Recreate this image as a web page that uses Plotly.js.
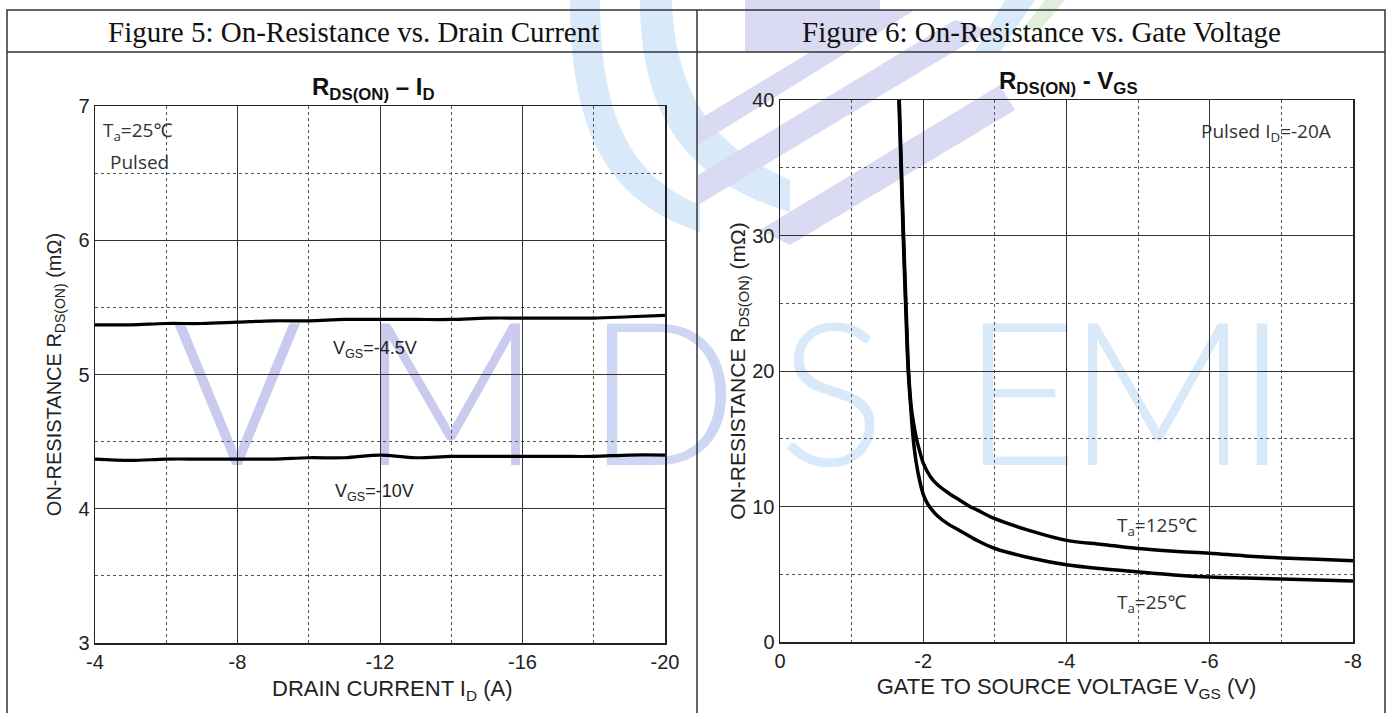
<!DOCTYPE html>
<html>
<head>
<meta charset="utf-8">
<script src="https://cdn.plot.ly/plotly-3.0.1.min.js"></script>
<style>html,body{margin:0;padding:0;background:#fff;}#chart{width:1391px;height:713px;}</style>
</head>
<body>
<div id="chart"></div>
<script>
// ---------- data ----------
const drainCurrent = [-4,-5,-6,-7,-8,-9,-10,-11,-12,-13,-14,-15,-16,-17,-18,-19,-20];
const rdsVgs45 = [5.37,5.37,5.38,5.38,5.39,5.40,5.40,5.41,5.41,5.41,5.41,5.42,5.42,5.42,5.42,5.43,5.44];
const rdsVgs10 = [4.37,4.36,4.37,4.37,4.37,4.37,4.38,4.38,4.40,4.38,4.39,4.39,4.39,4.39,4.39,4.40,4.40];

const vgs25 = [-1.66,-1.69,-1.72,-1.76,-1.79,-1.83,-1.86,-1.90,-1.95,-2.0,-2.05,-2.1,-2.2,-2.35,-2.5,-2.75,-3,-3.5,-4,-4.5,-5,-5.5,-6,-6.5,-7,-7.5,-8];
const rds25 = [40,35,30,24,20,17,15,13.3,11.9,10.9,10.3,9.9,9.3,8.7,8.25,7.5,6.9,6.2,5.7,5.4,5.17,4.95,4.8,4.72,4.65,4.57,4.5];
const vgs125 = [-1.665,-1.695,-1.725,-1.765,-1.795,-1.835,-1.87,-1.91,-1.96,-2.0,-2.1,-2.2,-2.35,-2.5,-2.65,-2.75,-3,-3.5,-4,-4.5,-5,-5.5,-6,-6.5,-7,-7.5,-8];
const rds125 = [40,35,30,24,20,17.2,16.0,14.9,13.9,13.2,12.2,11.6,11.0,10.5,10.0,9.75,9.1,8.2,7.5,7.2,6.9,6.7,6.55,6.35,6.2,6.1,6.0];

const xTicks5 = [-4,-8,-12,-16,-20];
const xTickText5 = ['-4','-8','-12','-16','-20'];
const yTicks5 = [3,4,5,6,7];
const xTicks6 = [0,-2,-4,-6,-8];
const xTickText6 = ['0','-2','-4','-6','-8'];
const yTicks6 = [0,10,20,30,40];

// ---------- layout helpers ----------
const W = 1391, H = 713;
const px = x => x / W;
const py = y => 1 - y / H;

const tickFont = {family: 'Liberation Sans, Arial, sans-serif', size: 20, color: '#222'};
const noteFont = {family: 'Open Sans, Noto Sans, sans-serif', size: 19, color: '#333'};

function axisCommon(extra) {
  return Object.assign({
    showline: true, mirror: true, linecolor: '#222', linewidth: 1.5,
    showgrid: true, gridcolor: '#333', gridwidth: 1,
    zeroline: false, ticks: '', tickfont: tickFont, automargin: false,
    fixedrange: true
  }, extra);
}
function minorGrid(dtick, tick0) {
  return {showgrid: true, gridcolor: '#555', griddash: 'dot', gridwidth: 1, dtick: dtick, tick0: tick0};
}

const traces = [
  {x: drainCurrent, y: rdsVgs45, xaxis: 'x', yaxis: 'y', mode: 'lines', name: 'VGS=-4.5V',
   line: {color: '#000', width: 3.2, shape: 'spline'}, hoverinfo: 'skip'},
  {x: drainCurrent, y: rdsVgs10, xaxis: 'x', yaxis: 'y', mode: 'lines', name: 'VGS=-10V',
   line: {color: '#000', width: 3.2, shape: 'spline'}, hoverinfo: 'skip'},
  {x: vgs25, y: rds25, xaxis: 'x2', yaxis: 'y2', mode: 'lines', name: 'Ta=25°C',
   line: {color: '#000', width: 3.5, shape: 'spline', smoothing: 1}, hoverinfo: 'skip'},
  {x: vgs125, y: rds125, xaxis: 'x2', yaxis: 'y2', mode: 'lines', name: 'Ta=125°C',
   line: {color: '#000', width: 3.5, shape: 'spline', smoothing: 1}, hoverinfo: 'skip'}
];

const lav = '#dadbf3';
const blu = '#d8e9fa';
const lavText = '#c9caee';
function wm(letter, cx, color) {
  return {type: 'rect', xref: 'paper', yref: 'paper', layer: 'below',
    x0: px(cx - 100), x1: px(cx + 100), y0: py(470), y1: py(300),
    line: {width: 0}, fillcolor: 'rgba(0,0,0,0)',
    label: {text: letter, textposition: 'middle center',
      font: {family: 'Lato, Inter, sans-serif', size: 200, color: color, weight: 300}}};
}
function band(path, color) {
  return {type: 'path', xref: 'paper', yref: 'paper', layer: 'below', line: {width: 0},
    fillcolor: color, path: path};
}
const P = (x, y) => `${px(x)} ${py(y)}`;

const shapes = [
  // logo-like decorative bands (background)
  band(`M ${P(570,0)} L ${P(600,0)} C ${P(600,130)} ${P(640,180)} ${P(700,205)} L ${P(700,232)} C ${P(620,205)} ${P(570,150)} ${P(570,0)} Z`, blu),
  band(`M ${P(640,0)} L ${P(672,0)} C ${P(675,100)} ${P(720,150)} ${P(790,180)} L ${P(790,212)} C ${P(700,185)} ${P(640,130)} ${P(640,0)} Z`, blu),
  band(`M ${P(745,0)} L ${P(880,0)} L ${P(880,15)} L ${P(825,52)} L ${P(745,52)} Z`, lav),
  band(`M ${P(698,120)} L ${P(880,10)} L ${P(915,10)} L ${P(698,145)} Z`, lav),
  band(`M ${P(698,175)} L ${P(955,20)} L ${P(990,30)} L ${P(698,205)} Z`, lav),
  band(`M ${P(760,230)} L ${P(1000,85)} L ${P(1015,110)} L ${P(790,245)} Z`, lav),
  band(`M ${P(1005,0)} L ${P(1035,0)} L ${P(1000,52)} L ${P(975,52)} Z`, blu),
  band(`M ${P(1045,0)} L ${P(1065,0)} L ${P(1040,30)} L ${P(1022,30)} Z`, '#e0efdc'),
  // watermark letters
  wm('V', 237, lavText), wm('M', 450, lavText), wm('D', 662, '#cdd6f3'),
  wm('S', 832, blu), wm('E', 1020, blu), wm('M', 1158, blu), wm('I', 1262, blu),
  // table borders
  {type: 'rect', xref: 'paper', yref: 'paper', x0: px(7), x1: px(1385), y0: py(720), y1: py(10),
   line: {color: '#333', width: 1.5}, fillcolor: 'rgba(0,0,0,0)'},
  {type: 'line', xref: 'paper', yref: 'paper', x0: px(7), x1: px(1385), y0: py(52), y1: py(52),
   line: {color: '#333', width: 1.5}},
  {type: 'line', xref: 'paper', yref: 'paper', x0: px(697), x1: px(697), y0: py(10), y1: py(720),
   line: {color: '#333', width: 1.5}}
];

function ann(text, x, y, font, xanchor, yanchor) {
  return {text: text, xref: 'paper', yref: 'paper', x: px(x), y: py(y), showarrow: false,
    xanchor: xanchor || 'left', yanchor: yanchor || 'middle', font: font};
}
const serif = {family: 'Liberation Serif, Times New Roman, serif', size: 29, color: '#111'};
const boldTitle = {family: 'Liberation Sans, Arial, sans-serif', size: 24, color: '#111'};
const labelFont = {family: 'Liberation Sans, Arial, sans-serif', size: 18, color: '#222'};

const annotations = [
  ann('Figure 5: On-Resistance vs. Drain Current', 353, 32, serif, 'center'),
  ann('Figure 6: On-Resistance vs. Gate Voltage', 1041, 32, serif, 'center'),
  ann('<b>R<sub>DS(ON)</sub> – I<sub>D</sub></b>', 373, 88, boldTitle, 'center'),
  ann('<b>R<sub>DS(ON)</sub> - V<sub>GS</sub></b>', 1068, 82, boldTitle, 'center'),
  ann('T<sub>a</sub>=25℃', 101, 131, noteFont),
  ann('Pulsed', 108, 162, noteFont),
  ann('V<sub>GS</sub>=-4.5V', 331, 350, labelFont),
  ann('V<sub>GS</sub>=-10V', 333, 492, labelFont),
  ann('Pulsed I<sub>D</sub>=-20A', 1199, 132, noteFont),
  ann('T<sub>a</sub>=125℃', 1115, 526, noteFont),
  ann('T<sub>a</sub>=25℃', 1115, 603, noteFont),
  ann('DRAIN CURRENT I<sub>D</sub> (A)', 392, 690, {family: 'Liberation Sans, Arial, sans-serif', size: 22, color: '#222'}, 'center')
];

const layout = {
  width: W, height: H,
  margin: {l: 0, r: 0, t: 0, b: 0},
  paper_bgcolor: '#ffffff', plot_bgcolor: 'rgba(0,0,0,0)',
  showlegend: false,
  xaxis: axisCommon({domain: [px(95), px(665)], range: [-4, -20], tickvals: xTicks5, ticktext: xTickText5,
    minor: minorGrid(2, -4)}),
  yaxis: axisCommon({domain: [py(643), py(106)], range: [3, 7], tickvals: yTicks5,
    minor: minorGrid(0.5, 3),
    title: {text: 'ON-RESISTANCE R<sub>DS(ON)</sub> (mΩ)', font: {family: 'Liberation Sans, Arial, sans-serif', size: 20, color: '#222'}, standoff: 11}}),
  xaxis2: axisCommon({domain: [px(780), px(1353)], range: [0, -8], tickvals: xTicks6, ticktext: xTickText6, anchor: 'y2',
    minor: minorGrid(1, 0),
    title: {text: 'GATE TO SOURCE VOLTAGE V<sub>GS</sub> (V)', font: {family: 'Liberation Sans, Arial, sans-serif', size: 22, color: '#222'}, standoff: 8}}),
  yaxis2: axisCommon({domain: [py(642), py(100)], range: [0, 40], tickvals: yTicks6, anchor: 'x2',
    minor: minorGrid(5, 0),
    title: {text: 'ON-RESISTANCE R<sub>DS(ON)</sub> (mΩ)', font: {family: 'Liberation Sans, Arial, sans-serif', size: 21, color: '#222'}, standoff: 0}}),
  shapes: shapes,
  annotations: annotations
};

Plotly.newPlot('chart', traces, layout, {staticPlot: true, displayModeBar: false});
</script>
</body>
</html>
